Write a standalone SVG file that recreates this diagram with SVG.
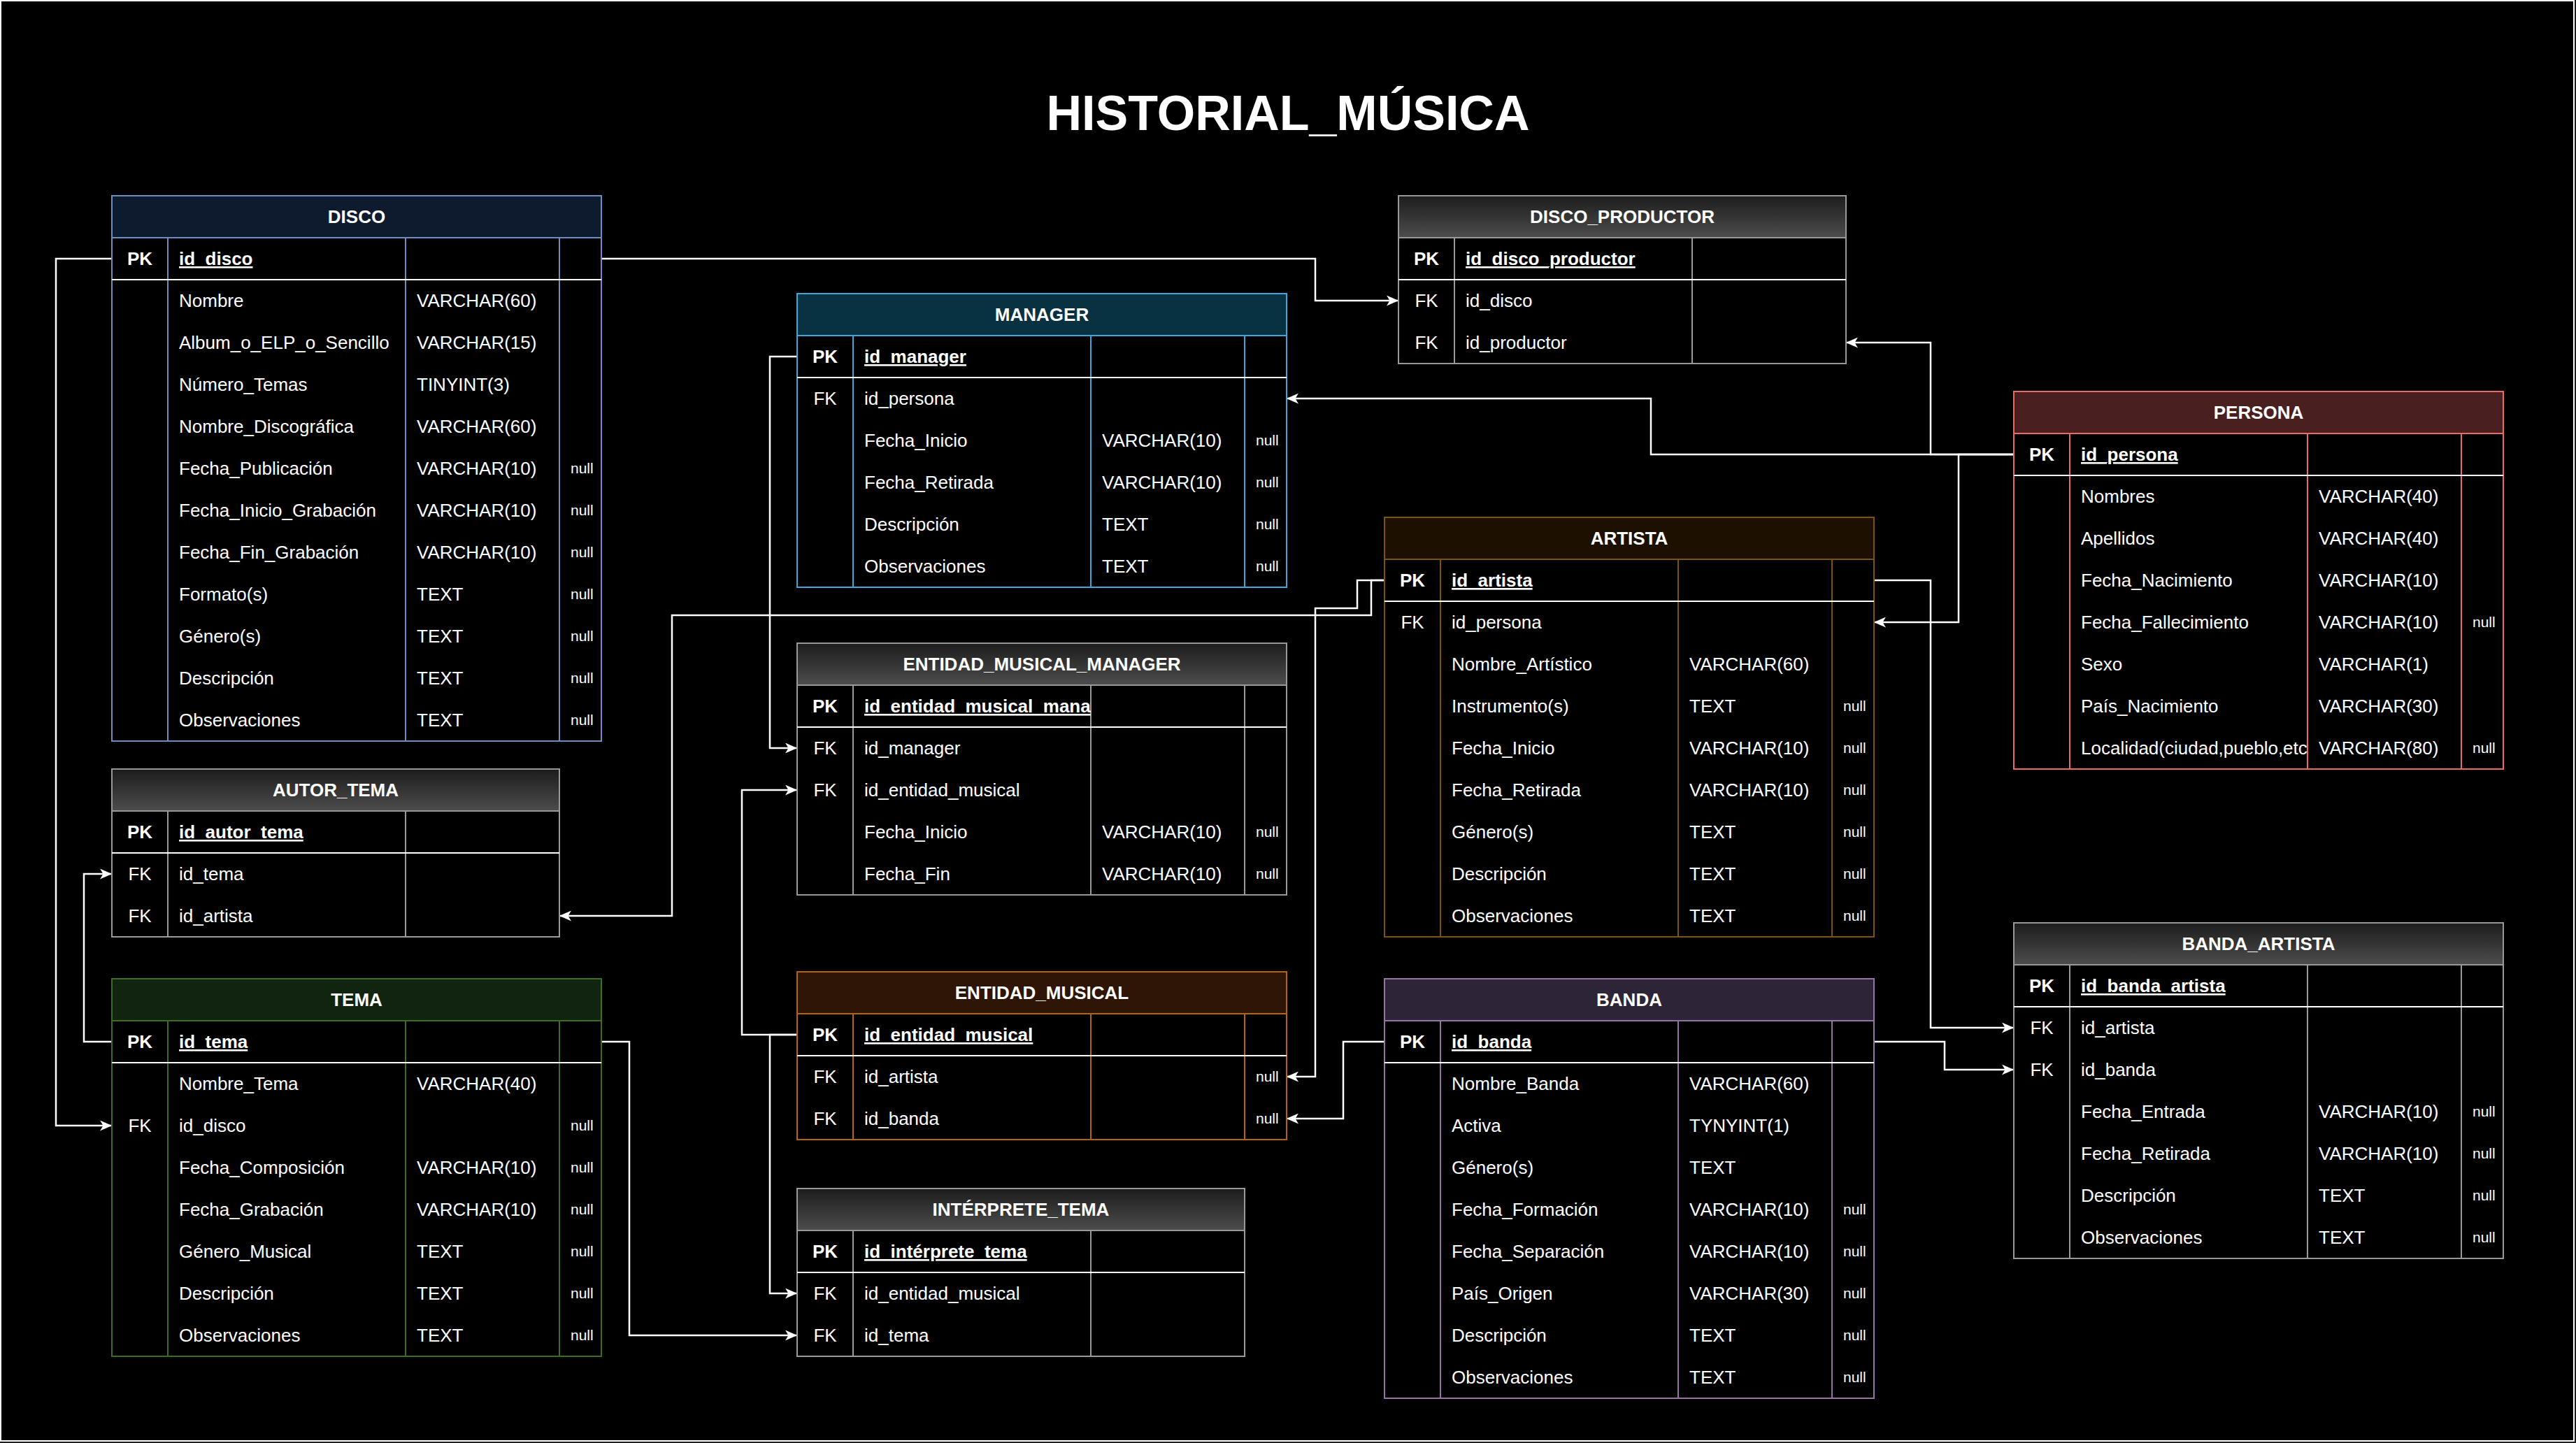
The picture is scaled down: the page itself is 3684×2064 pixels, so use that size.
<svg xmlns="http://www.w3.org/2000/svg" width="3684" height="2064" viewBox="0 0 3684 2064">
<defs>
<linearGradient id="gh" x1="0" y1="0" x2="0" y2="1"><stop offset="0" stop-color="#1c1c1c"/><stop offset="1" stop-color="#4d4d4d"/></linearGradient>
<marker id="arr" markerUnits="userSpaceOnUse" viewBox="0 0 17 15" refX="17" refY="7.5" markerWidth="17" markerHeight="15" orient="auto"><path d="M0,0L17,7.5L0,15L4.5,7.5Z" fill="#fff"/></marker>
</defs>
<style>
text{font-family:"Liberation Sans",Arial,Helvetica,sans-serif;fill:#fff}
.ti{font-size:70px;font-weight:bold;text-anchor:middle}
.h{font-size:26px;font-weight:bold;text-anchor:middle}
.k{font-size:26px;text-anchor:middle}
.kb{font-weight:bold}
.n{font-size:26px}
.p{font-weight:bold;text-decoration:underline}
.nl{font-size:21px}
.sep{stroke:#fff;stroke-width:2;fill:none}
.c{fill:none;stroke:#fff;stroke-width:2.5;marker-end:url(#arr)}
.cn{fill:none;stroke:#fff;stroke-width:2.5}
</style>
<rect x="0" y="0" width="3684" height="2064" fill="#1e1e1e"/>
<rect x="1" y="1" width="3680" height="2060" fill="#000" stroke="#fff" stroke-width="2"/>
<text class="ti" x="1842" y="186">HISTORIAL_MÚSICA</text>

<g id="connectors">
<path class="c" d="M860,370H1881V430H2000"/>
<path class="c" d="M160,370H80V1610H160"/>
<path class="c" d="M160,1490H120V1250H160"/>
<path class="c" d="M860,1490H900V1910H1140"/>
<path class="c" d="M1140,510H1101V1070H1140"/>
<path class="c" d="M1140,1480H1061V1130H1140"/>
<path class="c" d="M1140,1480H1101V1850H1140"/>
<path class="c" d="M1980,830H1961V880H961V1310H800"/>
<path class="c" d="M1980,830H1941V870H1881V1540H1840"/>
<path class="c" d="M1980,1490H1921V1600H1840"/>
<path class="c" d="M2880,650H2361V570H1840"/>
<path class="c" d="M2880,650H2761V490H2640"/>
<path class="c" d="M2880,650H2801V890H2680"/>
<path class="c" d="M2680,830H2761V1470H2880"/>
<path class="c" d="M2680,1490H2781V1530H2880"/>
</g>

<g id="disco">
<g stroke="#6c8ebf" stroke-width="2"><rect x="160" y="280" width="700" height="780" fill="#000"/><rect x="160" y="280" width="700" height="60" fill="#0e1a2e"/><path d="M240,340V1060M580,340V1060M800,340V1060" fill="none"/></g>
<path class="sep" d="M160,400H860"/>
<text class="h" x="510" y="319">DISCO</text>
<text class="k kb" x="200" y="379">PK</text><text class="n p" x="256" y="379">id_disco</text>
<text class="n" x="256" y="439">Nombre</text><text class="n" x="596" y="439">VARCHAR(60)</text>
<text class="n" x="256" y="499">Album_o_ELP_o_Sencillo</text><text class="n" x="596" y="499">VARCHAR(15)</text>
<text class="n" x="256" y="559">Número_Temas</text><text class="n" x="596" y="559">TINYINT(3)</text>
<text class="n" x="256" y="619">Nombre_Discográfica</text><text class="n" x="596" y="619">VARCHAR(60)</text>
<text class="n" x="256" y="679">Fecha_Publicación</text><text class="n" x="596" y="679">VARCHAR(10)</text><text class="nl" x="816" y="677">null</text>
<text class="n" x="256" y="739">Fecha_Inicio_Grabación</text><text class="n" x="596" y="739">VARCHAR(10)</text><text class="nl" x="816" y="737">null</text>
<text class="n" x="256" y="799">Fecha_Fin_Grabación</text><text class="n" x="596" y="799">VARCHAR(10)</text><text class="nl" x="816" y="797">null</text>
<text class="n" x="256" y="859">Formato(s)</text><text class="n" x="596" y="859">TEXT</text><text class="nl" x="816" y="857">null</text>
<text class="n" x="256" y="919">Género(s)</text><text class="n" x="596" y="919">TEXT</text><text class="nl" x="816" y="917">null</text>
<text class="n" x="256" y="979">Descripción</text><text class="n" x="596" y="979">TEXT</text><text class="nl" x="816" y="977">null</text>
<text class="n" x="256" y="1039">Observaciones</text><text class="n" x="596" y="1039">TEXT</text><text class="nl" x="816" y="1037">null</text>
</g>

<g id="autor_tema">
<g stroke="#999" stroke-width="2"><rect x="160" y="1100" width="640" height="240" fill="#000"/><rect x="160" y="1100" width="640" height="60" fill="url(#gh)"/><path d="M240,1160V1340M580,1160V1340" fill="none"/></g>
<path class="sep" d="M160,1220H800"/>
<text class="h" x="480" y="1139">AUTOR_TEMA</text>
<text class="k kb" x="200" y="1199">PK</text><text class="n p" x="256" y="1199">id_autor_tema</text>
<text class="k" x="200" y="1259">FK</text><text class="n" x="256" y="1259">id_tema</text>
<text class="k" x="200" y="1319">FK</text><text class="n" x="256" y="1319">id_artista</text>
</g>

<g id="tema">
<g stroke="#3b6e1e" stroke-width="2"><rect x="160" y="1400" width="700" height="540" fill="#000"/><rect x="160" y="1400" width="700" height="60" fill="#112410"/><path d="M240,1460V1940M580,1460V1940M800,1460V1940" fill="none"/></g>
<path class="sep" d="M160,1520H860"/>
<text class="h" x="510" y="1439">TEMA</text>
<text class="k kb" x="200" y="1499">PK</text><text class="n p" x="256" y="1499">id_tema</text>
<text class="n" x="256" y="1559">Nombre_Tema</text><text class="n" x="596" y="1559">VARCHAR(40)</text>
<text class="k" x="200" y="1619">FK</text><text class="n" x="256" y="1619">id_disco</text><text class="nl" x="816" y="1617">null</text>
<text class="n" x="256" y="1679">Fecha_Composición</text><text class="n" x="596" y="1679">VARCHAR(10)</text><text class="nl" x="816" y="1677">null</text>
<text class="n" x="256" y="1739">Fecha_Grabación</text><text class="n" x="596" y="1739">VARCHAR(10)</text><text class="nl" x="816" y="1737">null</text>
<text class="n" x="256" y="1799">Género_Musical</text><text class="n" x="596" y="1799">TEXT</text><text class="nl" x="816" y="1797">null</text>
<text class="n" x="256" y="1859">Descripción</text><text class="n" x="596" y="1859">TEXT</text><text class="nl" x="816" y="1857">null</text>
<text class="n" x="256" y="1919">Observaciones</text><text class="n" x="596" y="1919">TEXT</text><text class="nl" x="816" y="1917">null</text>
</g>

<g id="manager">
<g stroke="#3ea6d8" stroke-width="2"><rect x="1140" y="420" width="700" height="420" fill="#000"/><rect x="1140" y="420" width="700" height="60" fill="#083142"/><path d="M1220,480V840M1560,480V840M1780,480V840" fill="none"/></g>
<path class="sep" d="M1140,540H1840"/>
<text class="h" x="1490" y="459">MANAGER</text>
<text class="k kb" x="1180" y="519">PK</text><text class="n p" x="1236" y="519">id_manager</text>
<text class="k" x="1180" y="579">FK</text><text class="n" x="1236" y="579">id_persona</text>
<text class="n" x="1236" y="639">Fecha_Inicio</text><text class="n" x="1576" y="639">VARCHAR(10)</text><text class="nl" x="1796" y="637">null</text>
<text class="n" x="1236" y="699">Fecha_Retirada</text><text class="n" x="1576" y="699">VARCHAR(10)</text><text class="nl" x="1796" y="697">null</text>
<text class="n" x="1236" y="759">Descripción</text><text class="n" x="1576" y="759">TEXT</text><text class="nl" x="1796" y="757">null</text>
<text class="n" x="1236" y="819">Observaciones</text><text class="n" x="1576" y="819">TEXT</text><text class="nl" x="1796" y="817">null</text>
</g>

<g id="entidad_musical_manager">
<g stroke="#999" stroke-width="2"><rect x="1140" y="920" width="700" height="360" fill="#000"/><rect x="1140" y="920" width="700" height="60" fill="url(#gh)"/><path d="M1220,980V1280M1560,980V1280M1780,980V1280" fill="none"/></g>
<path class="sep" d="M1140,1040H1840"/>
<text class="h" x="1490" y="959">ENTIDAD_MUSICAL_MANAGER</text>
<text class="k kb" x="1180" y="1019">PK</text><text class="n p" x="1236" y="1019">id_entidad_musical_mana</text>
<text class="k" x="1180" y="1079">FK</text><text class="n" x="1236" y="1079">id_manager</text>
<text class="k" x="1180" y="1139">FK</text><text class="n" x="1236" y="1139">id_entidad_musical</text>
<text class="n" x="1236" y="1199">Fecha_Inicio</text><text class="n" x="1576" y="1199">VARCHAR(10)</text><text class="nl" x="1796" y="1197">null</text>
<text class="n" x="1236" y="1259">Fecha_Fin</text><text class="n" x="1576" y="1259">VARCHAR(10)</text><text class="nl" x="1796" y="1257">null</text>
</g>

<g id="entidad_musical">
<g stroke="#b46504" stroke-width="2"><rect x="1140" y="1390" width="700" height="240" fill="#000"/><rect x="1140" y="1390" width="700" height="60" fill="#2e1505"/><path d="M1220,1450V1630M1560,1450V1630M1780,1450V1630" fill="none"/></g>
<path class="sep" d="M1140,1510H1840"/>
<text class="h" x="1490" y="1429">ENTIDAD_MUSICAL</text>
<text class="k kb" x="1180" y="1489">PK</text><text class="n p" x="1236" y="1489">id_entidad_musical</text>
<text class="k" x="1180" y="1549">FK</text><text class="n" x="1236" y="1549">id_artista</text><text class="nl" x="1796" y="1547">null</text>
<text class="k" x="1180" y="1609">FK</text><text class="n" x="1236" y="1609">id_banda</text><text class="nl" x="1796" y="1607">null</text>
</g>

<g id="interprete_tema">
<g stroke="#999" stroke-width="2"><rect x="1140" y="1700" width="640" height="240" fill="#000"/><rect x="1140" y="1700" width="640" height="60" fill="url(#gh)"/><path d="M1220,1760V1940M1560,1760V1940" fill="none"/></g>
<path class="sep" d="M1140,1820H1780"/>
<text class="h" x="1460" y="1739">INTÉRPRETE_TEMA</text>
<text class="k kb" x="1180" y="1799">PK</text><text class="n p" x="1236" y="1799">id_intérprete_tema</text>
<text class="k" x="1180" y="1859">FK</text><text class="n" x="1236" y="1859">id_entidad_musical</text>
<text class="k" x="1180" y="1919">FK</text><text class="n" x="1236" y="1919">id_tema</text>
</g>

<g id="disco_productor">
<g stroke="#999" stroke-width="2"><rect x="2000" y="280" width="640" height="240" fill="#000"/><rect x="2000" y="280" width="640" height="60" fill="url(#gh)"/><path d="M2080,340V520M2420,340V520" fill="none"/></g>
<path class="sep" d="M2000,400H2640"/>
<text class="h" x="2320" y="319">DISCO_PRODUCTOR</text>
<text class="k kb" x="2040" y="379">PK</text><text class="n p" x="2096" y="379">id_disco_productor</text>
<text class="k" x="2040" y="439">FK</text><text class="n" x="2096" y="439">id_disco</text>
<text class="k" x="2040" y="499">FK</text><text class="n" x="2096" y="499">id_productor</text>
</g>

<g id="artista">
<g stroke="#7a5600" stroke-width="2"><rect x="1980" y="740" width="700" height="600" fill="#000"/><rect x="1980" y="740" width="700" height="60" fill="#1d1000"/><path d="M2060,800V1340M2400,800V1340M2620,800V1340" fill="none"/></g>
<path class="sep" d="M1980,860H2680"/>
<text class="h" x="2330" y="779">ARTISTA</text>
<text class="k kb" x="2020" y="839">PK</text><text class="n p" x="2076" y="839">id_artista</text>
<text class="k" x="2020" y="899">FK</text><text class="n" x="2076" y="899">id_persona</text>
<text class="n" x="2076" y="959">Nombre_Artístico</text><text class="n" x="2416" y="959">VARCHAR(60)</text>
<text class="n" x="2076" y="1019">Instrumento(s)</text><text class="n" x="2416" y="1019">TEXT</text><text class="nl" x="2636" y="1017">null</text>
<text class="n" x="2076" y="1079">Fecha_Inicio</text><text class="n" x="2416" y="1079">VARCHAR(10)</text><text class="nl" x="2636" y="1077">null</text>
<text class="n" x="2076" y="1139">Fecha_Retirada</text><text class="n" x="2416" y="1139">VARCHAR(10)</text><text class="nl" x="2636" y="1137">null</text>
<text class="n" x="2076" y="1199">Género(s)</text><text class="n" x="2416" y="1199">TEXT</text><text class="nl" x="2636" y="1197">null</text>
<text class="n" x="2076" y="1259">Descripción</text><text class="n" x="2416" y="1259">TEXT</text><text class="nl" x="2636" y="1257">null</text>
<text class="n" x="2076" y="1319">Observaciones</text><text class="n" x="2416" y="1319">TEXT</text><text class="nl" x="2636" y="1317">null</text>
</g>

<g id="banda">
<g stroke="#9673a6" stroke-width="2"><rect x="1980" y="1400" width="700" height="600" fill="#000"/><rect x="1980" y="1400" width="700" height="60" fill="#2e2437"/><path d="M2060,1460V2000M2400,1460V2000M2620,1460V2000" fill="none"/></g>
<path class="sep" d="M1980,1520H2680"/>
<text class="h" x="2330" y="1439">BANDA</text>
<text class="k kb" x="2020" y="1499">PK</text><text class="n p" x="2076" y="1499">id_banda</text>
<text class="n" x="2076" y="1559">Nombre_Banda</text><text class="n" x="2416" y="1559">VARCHAR(60)</text>
<text class="n" x="2076" y="1619">Activa</text><text class="n" x="2416" y="1619">TYNYINT(1)</text>
<text class="n" x="2076" y="1679">Género(s)</text><text class="n" x="2416" y="1679">TEXT</text>
<text class="n" x="2076" y="1739">Fecha_Formación</text><text class="n" x="2416" y="1739">VARCHAR(10)</text><text class="nl" x="2636" y="1737">null</text>
<text class="n" x="2076" y="1799">Fecha_Separación</text><text class="n" x="2416" y="1799">VARCHAR(10)</text><text class="nl" x="2636" y="1797">null</text>
<text class="n" x="2076" y="1859">País_Origen</text><text class="n" x="2416" y="1859">VARCHAR(30)</text><text class="nl" x="2636" y="1857">null</text>
<text class="n" x="2076" y="1919">Descripción</text><text class="n" x="2416" y="1919">TEXT</text><text class="nl" x="2636" y="1917">null</text>
<text class="n" x="2076" y="1979">Observaciones</text><text class="n" x="2416" y="1979">TEXT</text><text class="nl" x="2636" y="1977">null</text>
</g>

<g id="persona">
<g stroke="#ea6b66" stroke-width="2"><rect x="2880" y="560" width="700" height="540" fill="#000"/><rect x="2880" y="560" width="700" height="60" fill="#4a1f1f"/><path d="M2960,620V1100M3300,620V1100M3520,620V1100" fill="none"/></g>
<path class="sep" d="M2880,680H3580"/>
<text class="h" x="3230" y="599">PERSONA</text>
<text class="k kb" x="2920" y="659">PK</text><text class="n p" x="2976" y="659">id_persona</text>
<text class="n" x="2976" y="719">Nombres</text><text class="n" x="3316" y="719">VARCHAR(40)</text>
<text class="n" x="2976" y="779">Apellidos</text><text class="n" x="3316" y="779">VARCHAR(40)</text>
<text class="n" x="2976" y="839">Fecha_Nacimiento</text><text class="n" x="3316" y="839">VARCHAR(10)</text>
<text class="n" x="2976" y="899">Fecha_Fallecimiento</text><text class="n" x="3316" y="899">VARCHAR(10)</text><text class="nl" x="3536" y="897">null</text>
<text class="n" x="2976" y="959">Sexo</text><text class="n" x="3316" y="959">VARCHAR(1)</text>
<text class="n" x="2976" y="1019">País_Nacimiento</text><text class="n" x="3316" y="1019">VARCHAR(30)</text>
<text class="n" x="2976" y="1079">Localidad(ciudad,pueblo,etc</text><text class="n" x="3316" y="1079">VARCHAR(80)</text><text class="nl" x="3536" y="1077">null</text>
</g>

<g id="banda_artista">
<g stroke="#999" stroke-width="2"><rect x="2880" y="1320" width="700" height="480" fill="#000"/><rect x="2880" y="1320" width="700" height="60" fill="url(#gh)"/><path d="M2960,1380V1800M3300,1380V1800M3520,1380V1800" fill="none"/></g>
<path class="sep" d="M2880,1440H3580"/>
<text class="h" x="3230" y="1359">BANDA_ARTISTA</text>
<text class="k kb" x="2920" y="1419">PK</text><text class="n p" x="2976" y="1419">id_banda_artista</text>
<text class="k" x="2920" y="1479">FK</text><text class="n" x="2976" y="1479">id_artista</text>
<text class="k" x="2920" y="1539">FK</text><text class="n" x="2976" y="1539">id_banda</text>
<text class="n" x="2976" y="1599">Fecha_Entrada</text><text class="n" x="3316" y="1599">VARCHAR(10)</text><text class="nl" x="3536" y="1597">null</text>
<text class="n" x="2976" y="1659">Fecha_Retirada</text><text class="n" x="3316" y="1659">VARCHAR(10)</text><text class="nl" x="3536" y="1657">null</text>
<text class="n" x="2976" y="1719">Descripción</text><text class="n" x="3316" y="1719">TEXT</text><text class="nl" x="3536" y="1717">null</text>
<text class="n" x="2976" y="1779">Observaciones</text><text class="n" x="3316" y="1779">TEXT</text><text class="nl" x="3536" y="1777">null</text>
</g>
</svg>
